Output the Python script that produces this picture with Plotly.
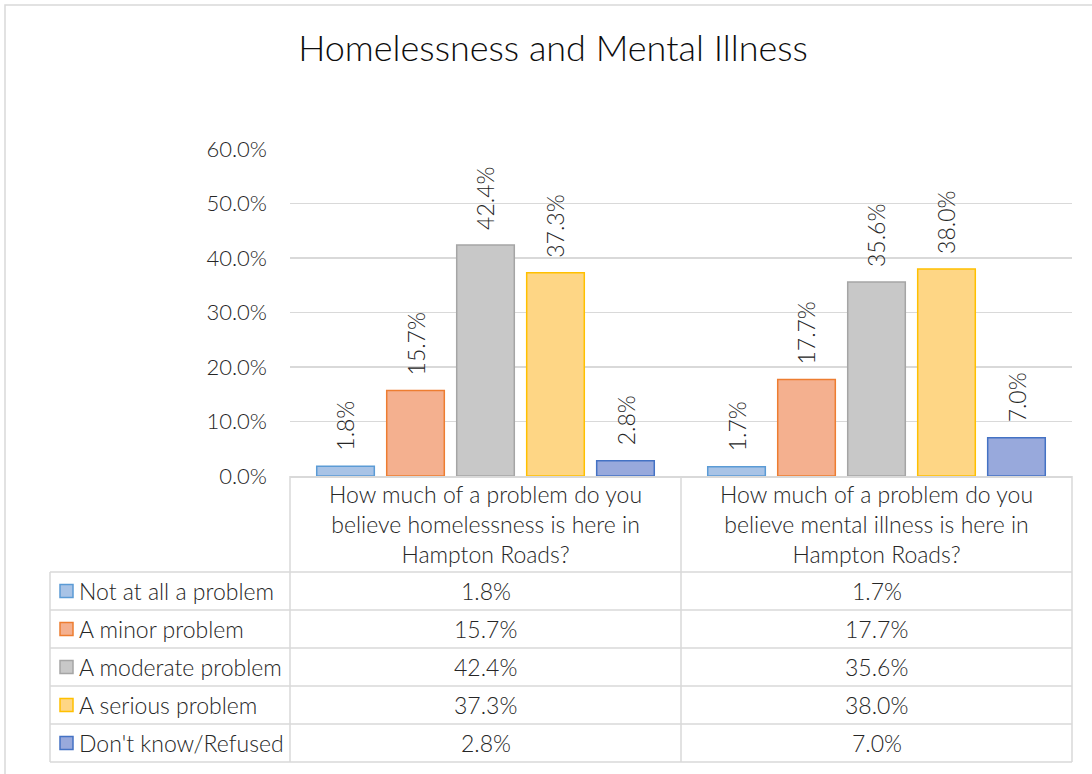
import plotly.graph_objects as go

categories = [
    "How much of a problem do you<br>believe homelessness is here in<br>Hampton Roads?",
    "How much of a problem do you<br>believe mental illness is here in<br>Hampton Roads?",
]
series_names = ["Not at all a problem", "A minor problem", "A moderate problem",
                "A serious problem", "Don't know/Refused"]
values_homeless = [1.8, 15.7, 42.4, 37.3, 2.8]
values_mental = [1.7, 17.7, 35.6, 38.0, 7.0]
tick_vals = [0, 10, 20, 30, 40, 50, 60]
tick_text = ["0.0%", "10.0%", "20.0%", "30.0%", "40.0%", "50.0%", "60.0%"]

fills = ["#A8C3E6", "#F4B08F", "#C8C8C8", "#FED685", "#98A9DC"]
lines = ["#5B9BD5", "#ED7D31", "#A5A5A5", "#FFC000", "#4472C4"]

FONT = "Lato"
TXT = "#262626"
GRID = "#D9D9D9"
TW = 300  # text weight

W, H = 1092, 774
L, R, T, B = 290, 1072, 149, 476  # plot area pixels


def px(X):
    return (X - L) / (R - L)


def py(Y):
    return (B - Y) / (B - T)


cat_idx = ["c0", "c1"]
fig = go.Figure()
annotations = []
for i, name in enumerate(series_names):
    vals = [values_homeless[i], values_mental[i]]
    fig.add_trace(go.Bar(
        x=cat_idx, y=vals, name=name,
        marker=dict(color=fills[i], line=dict(color=lines[i], width=1.5)),
        showlegend=False, hoverinfo="skip",
    ))
    for c, v in zip(cat_idx, vals):
        annotations.append(dict(xref="x", yref="y", x=c, y=v, text=f"{v:.1f}%",
                                showarrow=False, textangle=-90,
                                xanchor="center", yanchor="bottom",
                                xshift=(i - 2) * 70, yshift=13,
                                font=dict(family=FONT, size=23, color=TXT, weight=TW)))

shapes = []

# outer chart border
shapes.append(dict(type="rect", xref="paper", yref="paper",
                   x0=px(5), x1=px(1110), y0=py(5), y1=py(800),
                   line=dict(color=GRID, width=1.5), layer="below"))

# data table lines
row_edges = [572, 610, 648, 686, 724, 762]
col_edges = [50, 290, 681, 1072]
for Y in row_edges:
    shapes.append(dict(type="line", xref="paper", yref="paper",
                       x0=px(50), x1=px(1072), y0=py(Y), y1=py(Y),
                       line=dict(color=GRID, width=1.5)))
shapes.append(dict(type="line", xref="paper", yref="paper",
                   x0=px(50), x1=px(50), y0=py(572), y1=py(762),
                   line=dict(color=GRID, width=1.5)))
for X in col_edges[1:]:
    shapes.append(dict(type="line", xref="paper", yref="paper",
                       x0=px(X), x1=px(X), y0=py(476), y1=py(762),
                       line=dict(color=GRID, width=1.5)))

# header labels
for j, cat in enumerate(categories):
    cx = (col_edges[j + 1] + col_edges[j + 2]) / 2
    annotations.append(dict(xref="paper", yref="paper", x=px(cx), y=py(524),
                            text=cat, showarrow=False, xanchor="center", yanchor="middle",
                            font=dict(family=FONT, size=23, color=TXT, weight=TW)))

# rows: legend keys, names, values
for i, name in enumerate(series_names):
    yc = (row_edges[i] + row_edges[i + 1]) / 2
    shapes.append(dict(type="rect", xref="paper", yref="paper",
                       x0=px(60), x1=px(73), y0=py(yc - 6.5), y1=py(yc + 6.5),
                       fillcolor=fills[i], line=dict(color=lines[i], width=1.5)))
    annotations.append(dict(xref="paper", yref="paper", x=px(77), y=py(yc),
                            text=name, showarrow=False, xanchor="left", yanchor="middle",
                            font=dict(family=FONT, size=23, color=TXT, weight=TW)))
    for j, vals in enumerate([values_homeless, values_mental]):
        cx = (col_edges[j + 1] + col_edges[j + 2]) / 2
        annotations.append(dict(xref="paper", yref="paper", x=px(cx), y=py(yc),
                                text=f"{vals[i]:.1f}%", showarrow=False,
                                xanchor="center", yanchor="middle",
                                font=dict(family=FONT, size=23, color=TXT, weight=TW)))

fig.update_layout(
    width=W, height=H,
    margin=dict(l=L, r=W - R, t=T, b=H - B, pad=0),
    paper_bgcolor="white", plot_bgcolor="white",
    title=dict(text="Homelessness and Mental Illness", x=553 / W, xanchor="center",
               y=1 - 48 / H, yanchor="middle",
               font=dict(family=FONT, size=36, color="#0D0D0D", weight=300)),
    barmode="group", bargap=0.105, bargroupgap=0.177,
    xaxis=dict(showticklabels=False, showline=True, linecolor=GRID, linewidth=1.5,
               showgrid=False, zeroline=False, fixedrange=True),
    yaxis=dict(range=[0, 60], tickvals=tick_vals, ticktext=tick_text,
               showgrid=True, gridcolor=GRID, gridwidth=1.5, zeroline=False,
               showline=False, ticklabelstandoff=22,
               tickfont=dict(family=FONT, size=22, color=TXT, weight=TW)),
    shapes=shapes, annotations=annotations,
    font=dict(family=FONT, color=TXT),
    hovermode=False,
)

fig.write_html("out.html", config={"displayModeBar": False, "staticPlot": True},
               post_script="document.body.style.margin='0';document.body.style.overflow='hidden';")
